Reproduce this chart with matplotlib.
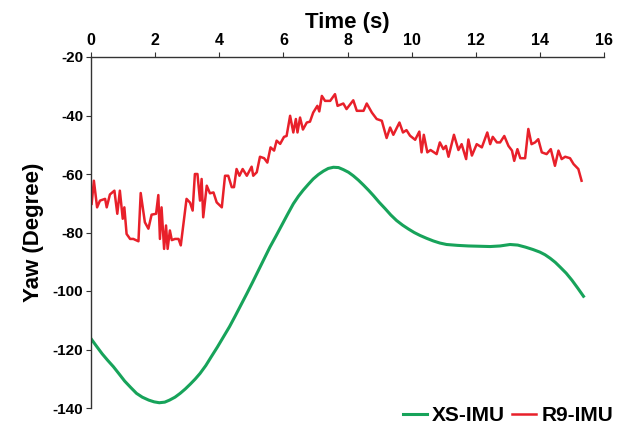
import matplotlib
matplotlib.use("Agg")
import matplotlib.pyplot as plt
from matplotlib import font_manager

narrow = 'Liberation Sans Narrow'
names = {f.name for f in font_manager.fontManager.ttflist}
if narrow not in names:
    narrow = 'Liberation Sans'

# XS-IMU (smooth)
xs_t = [0.0, 0.18, 0.35, 0.52, 0.70, 0.88, 1.05, 1.24, 1.42, 1.60, 1.80, 1.97, 2.13, 2.30,
        2.45, 2.62, 2.78, 2.94, 3.10, 3.25, 3.40, 3.58, 3.75, 3.94, 4.13, 4.32, 4.50, 4.68,
        4.86, 5.04, 5.22, 5.40, 5.58, 5.77, 5.95, 6.13, 6.31, 6.47, 6.62, 6.78, 6.93, 7.09,
        7.25, 7.40, 7.56, 7.72, 7.87, 8.03, 8.18, 8.34, 8.50, 8.66, 8.81, 8.99, 9.17, 9.35,
        9.53, 9.72, 9.90, 10.08, 10.26, 10.47, 10.68, 10.88, 11.09, 11.43, 11.77, 12.11,
        12.45, 12.76, 13.07, 13.31, 13.55, 13.78, 14.0, 14.16, 14.32, 14.48, 14.63, 14.82,
        15.0, 15.18, 15.36]
xs_v = [-116.3, -119.0, -121.5, -123.7, -125.9, -128.4, -130.8, -133.0, -135.0, -136.3,
        -137.3, -137.9, -138.2, -138.0, -137.3, -136.3, -135.0, -133.5, -131.8, -130.1,
        -128.2, -125.5, -122.5, -119.2, -115.7, -112.2, -108.5, -104.7, -100.9, -97.0,
        -93.0, -89.0, -85.0, -81.2, -77.5, -73.8, -70.2, -67.6, -65.5, -63.5, -61.7,
        -60.2, -59.0, -58.1, -57.7, -57.8, -58.5, -59.4, -60.6, -62.1, -63.8, -65.6, -67.4,
        -69.7, -71.8, -74.0, -75.9, -77.5, -78.8, -80.0, -81.0, -82.0, -82.9, -83.6, -84.1,
        -84.4, -84.6, -84.7, -84.8, -84.6, -84.1, -84.3, -85.0, -85.8, -86.7, -87.6, -88.8,
        -90.2, -91.8, -93.9, -96.3, -99.0, -101.8]

# R9-IMU (noisy)
r9_t = [0.02, 0.09, 0.19, 0.28, 0.44, 0.49, 0.59, 0.73, 0.82, 0.90, 0.99, 1.04, 1.11, 1.22,
        1.32, 1.48, 1.55, 1.68, 1.79, 1.89, 2.03, 2.10, 2.15, 2.20, 2.28, 2.34, 2.39, 2.46,
        2.52, 2.62, 2.73, 2.80, 2.98, 3.09, 3.17, 3.24, 3.32, 3.40, 3.45, 3.50, 3.61, 3.71,
        3.82, 3.92, 4.08, 4.18, 4.28, 4.39, 4.46, 4.54, 4.63, 4.73, 4.86, 5.01, 5.06, 5.17,
        5.27, 5.40, 5.50, 5.60, 5.71, 5.79, 5.90, 6.02, 6.10, 6.21, 6.31, 6.39, 6.44, 6.52,
        6.61, 6.73, 6.83, 6.93, 7.06, 7.12, 7.20, 7.30, 7.46, 7.61, 7.69, 7.87, 7.97, 8.18,
        8.29, 8.50, 8.60, 8.76, 8.91, 9.07, 9.22, 9.33, 9.43, 9.62, 9.73, 9.84, 9.95, 10.11,
        10.24, 10.31, 10.38, 10.49, 10.59, 10.78, 10.88, 10.99, 11.07, 11.15, 11.32, 11.46,
        11.56, 11.70, 11.77, 11.88, 12.03, 12.19, 12.36, 12.45, 12.53, 12.66, 12.76, 12.89,
        13.02, 13.13, 13.20, 13.30, 13.39, 13.54, 13.64, 13.74, 13.85, 13.95, 14.06, 14.21,
        14.34, 14.47, 14.58, 14.68, 14.79, 14.94, 15.05, 15.20, 15.30]
r9_v = [-70.2, -62.3, -71.4, -69.1, -68.5, -71.4, -67.0, -65.7, -73.6, -65.7, -75.3, -71.4,
        -80.5, -82.2, -82.2, -83.0, -66.5, -76.5, -78.7, -73.9, -73.6, -67.2, -82.2, -71.4,
        -85.6, -77.6, -85.6, -79.3, -82.6, -82.2, -82.2, -84.4, -68.5, -69.8, -72.5, -60.0,
        -60.0, -69.1, -61.7, -74.8, -64.0, -66.6, -66.3, -69.7, -71.4, -60.6, -60.6, -64.5,
        -64.5, -58.3, -60.6, -58.3, -60.6, -57.5, -60.6, -59.4, -54.1, -54.6, -56.1, -50.9,
        -52.0, -48.6, -49.7, -47.3, -47.0, -40.1, -45.8, -41.2, -45.8, -40.7, -44.8, -42.4,
        -42.1, -39.0, -36.7, -38.6, -33.3, -35.0, -35.0, -32.7, -36.7, -35.9, -37.8, -34.8,
        -38.4, -38.4, -35.9, -39.0, -41.2, -41.8, -47.7, -44.1, -46.6, -42.4, -45.8, -45.0,
        -46.9, -48.3, -45.5, -52.6, -46.6, -52.6, -51.8, -53.2, -49.2, -51.5, -50.4, -54.1,
        -46.6, -51.8, -49.8, -54.9, -48.2, -53.7, -49.8, -50.9, -45.8, -49.8, -47.3, -49.2,
        -49.2, -47.0, -50.4, -52.0, -55.5, -51.5, -54.6, -54.6, -44.6, -49.8, -49.2, -48.1,
        -52.6, -53.2, -51.5, -57.2, -52.0, -54.9, -54.1, -54.6, -56.6, -58.3, -62.3]

x_ticks = [0, 2, 4, 6, 8, 10, 12, 14, 16]
y_ticks = [-140, -120, -100, -80, -60, -40, -20]

fig = plt.figure(figsize=(6.32, 4.28), dpi=100)
ax = fig.add_axes([91/632, 1 - 408/428, (604-91)/632, (408-57)/428])

green = '#17a35a'
red = '#e8202a'
l1, = ax.plot(xs_t, xs_v, color=green, lw=2.2, label='XS-IMU', solid_joinstyle='round')
l2, = ax.plot(r9_t, r9_v, color=red, lw=1.8, label='R9-IMU')

ax.set_xlim(0, 16)
ax.set_ylim(-140, -20)
ax.spines['right'].set_visible(False)
ax.spines['bottom'].set_visible(False)
for s in ('left', 'top'):
    ax.spines[s].set_color('#333333')
    ax.spines[s].set_linewidth(1.0)

ax.xaxis.tick_top()
ax.xaxis.set_label_position('top')
ax.set_xticks(x_ticks)
ax.set_xticklabels([str(v) for v in x_ticks], fontfamily=narrow, fontweight='bold', fontsize=11.5)
ax.tick_params(axis='x', direction='out', length=3.6, pad=3.2, color='#333333')
ax.set_yticks(y_ticks)
ax.set_yticklabels([str(v) for v in y_ticks], fontfamily='Liberation Sans', fontweight='bold', fontsize=11)
ax.tick_params(axis='y', direction='out', length=3.6, pad=2, color='#333333')

ax.set_xlabel('Time (s)', fontfamily=narrow, fontweight='bold', fontsize=16, labelpad=3)
ax.set_ylabel('Yaw (Degree)', fontfamily='Liberation Sans', fontweight='bold', fontsize=16, labelpad=6)

fig.legend(handles=[l1, l2], loc='center right', bbox_to_anchor=(613/632, 1 - 415.5/428),
           ncol=2, frameon=False, handlelength=1.15, handletextpad=0.25, columnspacing=0.35,
           prop={'family': 'Liberation Sans', 'weight': 'bold', 'size': 15},
           borderpad=0, borderaxespad=0)

fig.savefig('out.png', dpi=100)
